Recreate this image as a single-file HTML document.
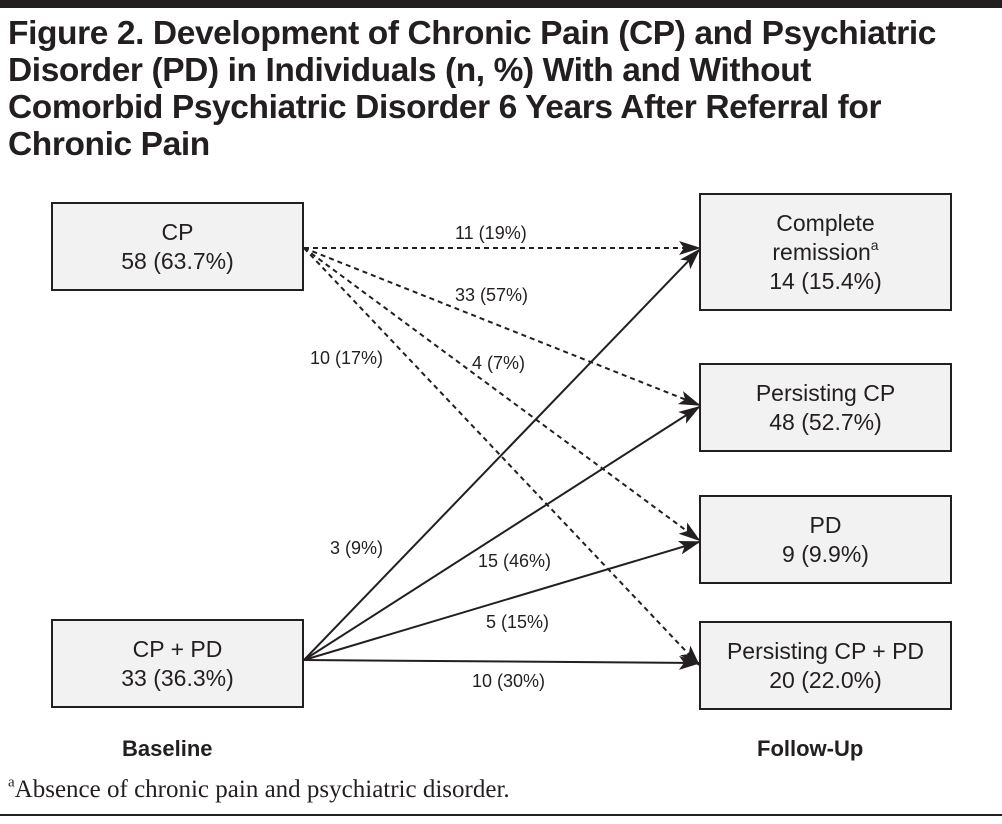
<!DOCTYPE html>
<html><head><style>
body{margin:0;width:1002px;height:824px;background:#fff;font-family:"Liberation Sans",sans-serif;position:relative;overflow:hidden}
.rule{position:absolute;left:0;width:1002px;background:#231f20}
h1{position:absolute;left:8px;top:15px;margin:0;font-size:33.5px;line-height:37px;font-weight:bold;color:#231f20;letter-spacing:-0.4px;white-space:nowrap}
.box{position:absolute;background:#f2f2f2;border:2px solid #231f20;box-sizing:border-box;display:flex;justify-content:center;align-items:center;font-size:23px;line-height:29px;color:#231f20;text-align:center}
.lbl{position:absolute;font-size:18px;color:#231f20;white-space:nowrap}
.bold{position:absolute;font-size:22px;font-weight:bold;color:#231f20}
.fn{position:absolute;left:8px;top:776px;font-family:"Liberation Serif",serif;font-size:25px;color:#231f20}
sup{font-size:14px;line-height:0;vertical-align:0.7em}
</style></head><body>
<div class="rule" style="top:0;height:8px"></div>
<h1>Figure 2. Development of Chronic Pain (CP) and Psychiatric<br>Disorder (PD) in Individuals (n, %) With and Without<br>Comorbid Psychiatric Disorder 6 Years After Referral for<br>Chronic Pain</h1>
<svg width="1002" height="824" style="position:absolute;left:0;top:0">
<defs><marker id="a" markerWidth="22" markerHeight="14" refX="20" refY="7" orient="auto" markerUnits="userSpaceOnUse"><path d="M0,0 L22,7 L0,14 L5,7 Z" fill="#231f20"/></marker></defs>
<g stroke="#231f20" stroke-width="2" fill="none" stroke-dasharray="5,4">
<line x1="304" y1="248" x2="699" y2="248" marker-end="url(#a)"/>
<line x1="304" y1="248" x2="699" y2="405" marker-end="url(#a)"/>
<line x1="304" y1="248" x2="699" y2="540" marker-end="url(#a)"/>
<line x1="304" y1="248" x2="699" y2="665" marker-end="url(#a)"/>
</g>
<g stroke="#231f20" stroke-width="2" fill="none">
<line x1="304" y1="660" x2="699" y2="250" marker-end="url(#a)"/>
<line x1="304" y1="660" x2="699" y2="407" marker-end="url(#a)"/>
<line x1="304" y1="660" x2="699" y2="542" marker-end="url(#a)"/>
<line x1="304" y1="660" x2="699" y2="663" marker-end="url(#a)"/>
</g>
</svg>
<div class="box" style="left:51px;top:202px;width:253px;height:89px"><div>CP<br>58 (63.7%)</div></div>
<div class="box" style="left:51px;top:619px;width:253px;height:89px"><div>CP + PD<br>33 (36.3%)</div></div>
<div class="box" style="left:699px;top:193px;width:253px;height:118px"><div>Complete<br>remission<sup>a</sup><br>14 (15.4%)</div></div>
<div class="box" style="left:699px;top:363px;width:253px;height:89px"><div>Persisting CP<br>48 (52.7%)</div></div>
<div class="box" style="left:699px;top:495px;width:253px;height:89px"><div>PD<br>9 (9.9%)</div></div>
<div class="box" style="left:699px;top:621px;width:253px;height:89px"><div>Persisting CP + PD<br>20 (22.0%)</div></div>
<div class="lbl" style="left:455px;top:223px">11 (19%)</div>
<div class="lbl" style="left:455px;top:285px">33 (57%)</div>
<div class="lbl" style="left:310px;top:348px">10 (17%)</div>
<div class="lbl" style="left:472px;top:353px">4 (7%)</div>
<div class="lbl" style="left:330px;top:538px">3 (9%)</div>
<div class="lbl" style="left:478px;top:551px">15 (46%)</div>
<div class="lbl" style="left:486px;top:612px">5 (15%)</div>
<div class="lbl" style="left:472px;top:671px">10 (30%)</div>
<div class="bold" style="left:122px;top:736px">Baseline</div>
<div class="bold" style="left:757px;top:736px">Follow-Up</div>
<div class="fn"><sup style="font-size:15px">a</sup>Absence of chronic pain and psychiatric disorder.</div>
<div class="rule" style="top:814px;height:2px"></div>
</body></html>
